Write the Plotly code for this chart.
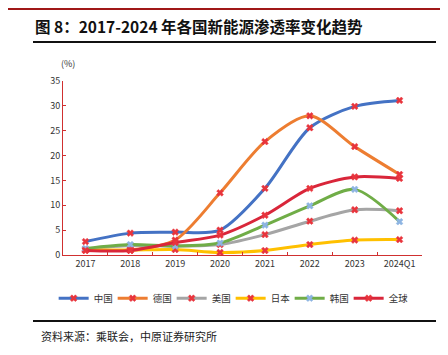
import plotly.graph_objects as go

categories = ["2017", "2018", "2019", "2020", "2021", "2022", "2023", "2024Q1"]
china = [2.7, 4.4, 4.6, 5.0, 13.4, 25.6, 29.9, 31.1]
germany = [1.1, 1.0, 3.0, 12.5, 22.8, 28.0, 21.8, 16.2]
usa = [1.2, 1.9, 1.8, 2.1, 4.1, 6.8, 9.1, 8.9]
japan = [1.0, 1.0, 1.1, 0.5, 0.9, 2.1, 3.0, 3.1]
korea = [1.3, 2.1, 1.8, 2.4, 6.0, 9.9, 13.2, 6.7]
world = [0.9, 0.9, 2.5, 4.0, 8.0, 13.4, 15.7, 15.4]

series_names = ["中国", "德国", "美国", "日本", "韩国", "全球"]
series_values = [china, germany, usa, japan, korea, world]
line_colors = ["#4472C4", "#ED7D31", "#A5A5A5", "#FFC000", "#70AD47", "#D9263A"]
marker_colors = ["#E8343C", "#E8343C", "#E8343C", "#E8343C", "#8DB4E2", "#E8343C"]

FONT = "Noto Sans CJK SC"
fig = go.Figure()
for name, vals, lc, mc in zip(series_names, series_values, line_colors, marker_colors):
    fig.add_trace(go.Scatter(
        x=categories, y=vals, name=name, mode="lines+markers",
        line=dict(color=lc, width=3, shape="spline", smoothing=0.8),
        marker=dict(symbol="x", size=6, color=mc,
                    line=dict(color=mc, width=0.5)),
    ))

fig.update_layout(
    width=448, height=355,
    margin=dict(l=55, r=34, t=73, b=108),
    paper_bgcolor="white", plot_bgcolor="white",
    font=dict(family=FONT, size=9, color="#333333"),
    showlegend=True,
    legend=dict(orientation="h", x=0.467, xanchor="center", y=-0.165, yanchor="top",
                font=dict(size=9.5, color="#333333"), itemwidth=30,
                entrywidth=14, entrywidthmode="pixels",
                tracegroupgap=0, itemclick=False),
    xaxis=dict(type="category", range=[-0.5, 7.5], showgrid=False,
               showline=True, linecolor="#D03030", linewidth=1,
               ticks="inside", ticklen=3, tickcolor="#D03030",
               tickson="boundaries", tickfont=dict(size=9, color="#333333"),
               fixedrange=True),
    yaxis=dict(range=[0, 35], dtick=5, showgrid=False, zeroline=False,
               showline=True, linecolor="#D03030", linewidth=1,
               ticks="inside", ticklen=3, tickcolor="#D03030",
               tickfont=dict(size=9, color="#333333"), fixedrange=True),
)

def px_x(p):
    return (p - 55) / 359

def px_y(p):
    return (247 - p) / 174

# title and decorations
fig.add_annotation(text="<b>图 8：2017-2024 年各国新能源渗透率变化趋势</b>",
                   xref="paper", yref="paper", x=px_x(25), y=px_y(18),
                   xanchor="left", yanchor="middle", showarrow=False,
                   font=dict(size=15.5, color="#111111", family=FONT))
fig.add_annotation(text="(%)", xref="paper", yref="paper",
                   x=px_x(60), y=px_y(55),
                   xanchor="center", yanchor="middle", showarrow=False,
                   font=dict(size=9, color="#333333"))
fig.add_annotation(text="资料来源：乘联会，中原证券研究所",
                   xref="paper", yref="paper", x=px_x(31), y=px_y(328),
                   xanchor="left", yanchor="middle", showarrow=False,
                   font=dict(size=11, color="#222222", family=FONT))

fig.add_shape(type="line", xref="paper", yref="paper",
              x0=px_x(0), x1=px_x(448), y0=px_y(1), y1=px_y(1),
              line=dict(color="#A01818", width=2))
fig.add_shape(type="line", xref="paper", yref="paper",
              x0=px_x(25), x1=px_x(428), y0=px_y(34), y1=px_y(34),
              line=dict(color="#111111", width=2))
fig.add_shape(type="line", xref="paper", yref="paper",
              x0=px_x(25), x1=px_x(428), y0=px_y(313), y1=px_y(313),
              line=dict(color="#111111", width=2))

fig.write_html("out.html")
